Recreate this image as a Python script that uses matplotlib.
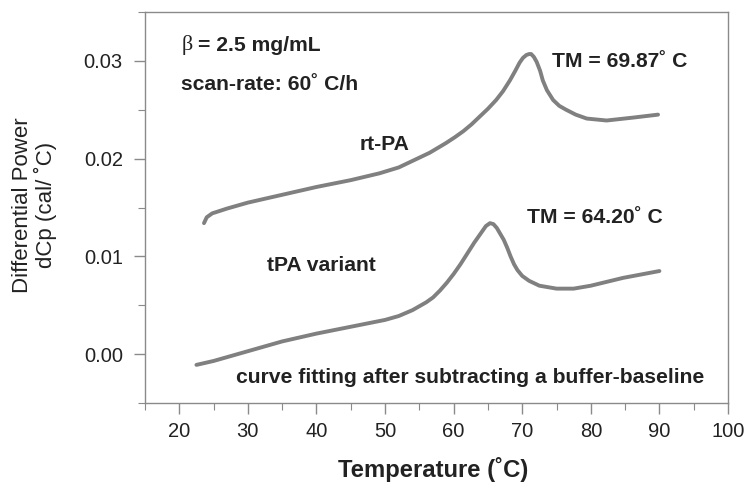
import matplotlib
matplotlib.use("Agg")
import matplotlib.pyplot as plt
from matplotlib.ticker import MultipleLocator

plt.rcParams["font.family"] = ["Liberation Sans", "DejaVu Sans"]

# rt-PA curve
rtpa_temp = [23.6, 24.0, 24.8, 27.0, 30.0, 35.0, 40.0, 45.0, 49.2, 52.0,
             54.1, 56.5, 58.9, 60.2, 61.4, 62.6, 63.8, 65.0, 66.2, 67.2,
             68.2, 69.0, 69.6, 70.1, 70.6, 71.0, 71.3, 71.7, 72.1, 72.6,
             73.0, 73.6, 74.5, 75.4, 76.4, 77.8, 79.4, 82.3, 86.2, 89.8]
rtpa_dcp = [0.0134, 0.0140, 0.0144, 0.0149, 0.0155, 0.0163, 0.0171, 0.0178, 0.0185, 0.0191,
            0.0198, 0.0206, 0.0216, 0.0222, 0.0228, 0.0235, 0.0243, 0.0251, 0.0260, 0.0269,
            0.0280, 0.0290, 0.0298, 0.0303, 0.0306, 0.0307, 0.0307, 0.0304, 0.0299, 0.0290,
            0.0280, 0.0270, 0.0260, 0.0254, 0.0250, 0.0245, 0.0241, 0.0239, 0.0242, 0.0245]

# tPA variant curve
var_temp = [22.5, 25.0, 30.0, 35.0, 40.0, 45.0, 50.0, 52.0, 54.0, 56.0,
            57.0, 58.0, 59.0, 60.0, 61.0, 62.0, 63.0, 64.0, 64.7, 65.3,
            65.8, 66.3, 66.8, 67.3, 67.8, 68.3, 68.8, 69.3, 70.0, 71.0,
            72.5, 75.0, 77.5, 80.0, 84.7, 90.0]
var_dcp = [-0.0011, -0.0007, 0.0003, 0.0013, 0.0021, 0.0028, 0.0035, 0.0039, 0.0045, 0.0053,
           0.0058, 0.0065, 0.0073, 0.0082, 0.0092, 0.0103, 0.0114, 0.0124, 0.0131, 0.0134,
           0.0133, 0.0129, 0.0123, 0.0117, 0.0109, 0.0100, 0.0092, 0.0086, 0.0080, 0.0075,
           0.0070, 0.0067, 0.0067, 0.0070, 0.0078, 0.0085]

line_col = "#808080"
axis_col = "#8a8a8a"

fig = plt.figure(figsize=(7.44, 4.83), dpi=100)
ax = fig.add_axes([145 / 744, 1 - 403 / 483, 583 / 744, 391 / 483])

ax.plot(rtpa_temp, rtpa_dcp, color=line_col, lw=2.8, solid_capstyle="round",
        solid_joinstyle="round")
ax.plot(var_temp, var_dcp, color=line_col, lw=2.8, solid_capstyle="round",
        solid_joinstyle="round")

ax.set_xlim(15, 100)
ax.set_ylim(-0.005, 0.035)
ax.xaxis.set_major_locator(MultipleLocator(10))
ax.xaxis.set_minor_locator(MultipleLocator(5))
ax.yaxis.set_major_locator(MultipleLocator(0.01))
ax.yaxis.set_minor_locator(MultipleLocator(0.005))
ax.set_yticks([0.0, 0.01, 0.02, 0.03])
ax.set_yticklabels(["0.00", "0.01", "0.02", "0.03"])
ax.set_xticks(range(20, 101, 10))

for s in ax.spines.values():
    s.set_color(axis_col)
    s.set_linewidth(1.0)
ax.tick_params(which="major", direction="out", length=8, width=1.0, color=axis_col,
               labelsize=14.5, labelcolor="#222222", pad=8)
ax.tick_params(axis="x", which="major", pad=6)
ax.tick_params(which="minor", direction="out", length=5, width=0.8, color=axis_col)

bold = dict(fontsize=15.2, fontweight="bold", color="#222222", va="center", ha="left")
ax.text(20.3, 0.0316, "β", fontsize=16, family="Liberation Serif", color="#222222",
        va="center", ha="left")
ax.text(22.7, 0.0316, "= 2.5 mg/mL", **bold)
ax.text(20.3, 0.0276, "scan-rate: 60˚ C/h", **bold)
ax.text(46.3, 0.0214, "rt-PA", **bold)
ax.text(32.8, 0.0091, "tPA variant", **bold)
ax.text(74.3, 0.0299, "TM = 69.87˚ C", **bold)
ax.text(70.7, 0.0140, "TM = 64.20˚ C", **bold)
ax.text(28.3, -0.0024, "curve fitting after subtracting a buffer-baseline", **bold)

fig.text(34.5 / 744, 1 - 205 / 483, "Differential Power\ndCp (cal/ ˚C)", rotation=90,
         ha="center", va="center", fontsize=16, color="#222222", linespacing=1.1)
fig.text(433 / 744, 1 - 469 / 483, "Temperature (˚C)", ha="center", va="center",
         fontsize=17.2, fontweight="bold", color="#222222")

fig.savefig("out.png", dpi=100)
